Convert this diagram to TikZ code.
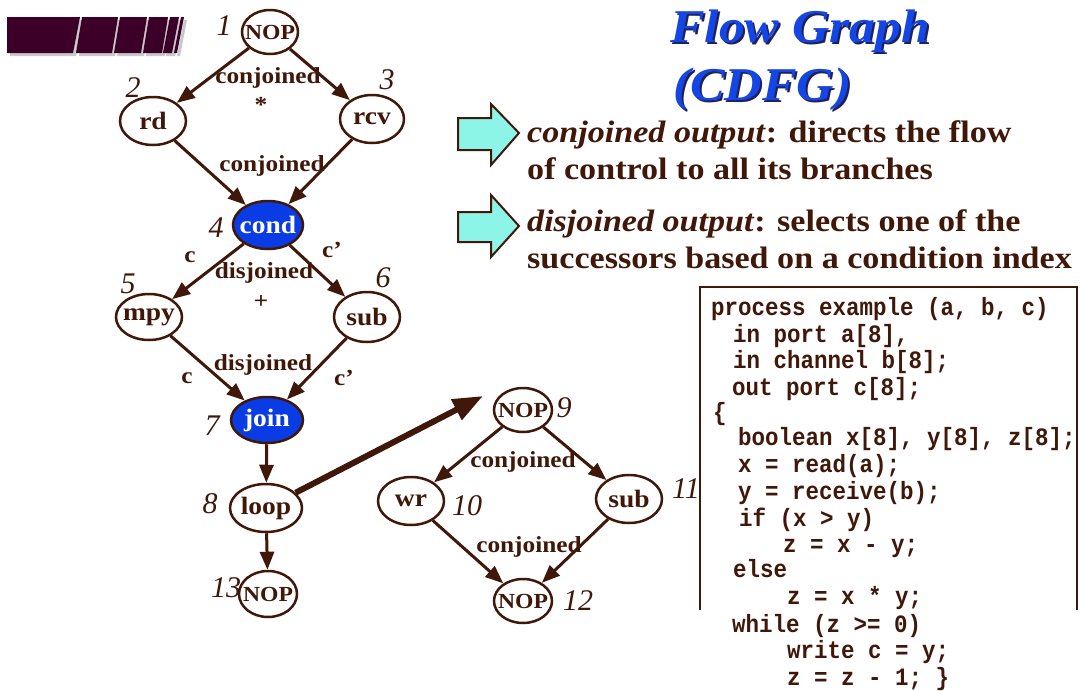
\documentclass[tikz,border=0pt]{standalone}
\usepackage{fontspec}
\setmainfont[FakeStretch=1.1]{Liberation Serif}
\setmonofont[FakeStretch=0.9]{Liberation Mono}
\newfontfamily\numfont{Liberation Serif}
\usetikzlibrary{arrows.meta,shapes.geometric}
\definecolor{brn}{HTML}{40180A}
\definecolor{nodeblue}{HTML}{0A3CE6}
\definecolor{titleblue}{HTML}{1446E6}
\definecolor{titleshadow}{HTML}{20205A}
\definecolor{cyanfill}{HTML}{8CF5E8}
\definecolor{plum}{HTML}{3C0028}
\definecolor{barshadow}{HTML}{C8C8C8}
\newcommand{\nt}[1]{\makebox[0pt]{#1}}
\tikzset{
  gnode/.style={ellipse, draw=brn, line width=2.5pt, fill=white, inner sep=0pt,
    text=brn, font=\fontsize{25}{27}\selectfont\bfseries},
  nopnode/.style={gnode, font=\fontsize{21.5}{23}\selectfont\bfseries},
  bnode/.style={gnode, fill=nodeblue, text=white},
  numlab/.style={anchor=base, inner sep=0pt, text=brn, font=\fontsize{30}{32}\selectfont\numfont\itshape},
  elab/.style={anchor=base, inner sep=0pt, text=brn, font=\fontsize{23}{26}\selectfont\bfseries},
  edge/.style={draw=brn, line width=3pt, -{Triangle[length=18pt,width=14pt]}},
  bigedge/.style={draw=brn, line width=6pt, -{Triangle[length=30pt,width=22pt]}},
  codeln/.style={anchor=base west, inner sep=0pt, text=brn, font=\fontsize{25}{26}\selectfont\ttfamily\bfseries},
  bigtext/.style={anchor=base west, inner sep=0pt, text=brn, font=\fontsize{31}{34}\selectfont\bfseries},
  titletext/.style={anchor=base west, inner sep=0pt, font=\fontsize{47}{50}\selectfont\bfseries\itshape},
  bluearrow/.style={draw=brn, line width=2pt, fill=cyanfill, line join=miter},
  barpart/.style={fill=plum},
  barshade/.style={fill=barshadow}
}
\begin{document}
\begin{tikzpicture}[x=1pt,y=-1pt]
\useasboundingbox (0,0) rectangle (1080,691);
\fill[white] (0,0) rectangle (1080,691);

% stripe bar (shadow then bar)
\begin{scope}[shift={(3,3)}]
\fill[barshade] (7,17) -- (80,17) -- (73,53) -- (7,53) -- cycle;
\fill[barshade] (82,17) -- (118,17) -- (112,53) -- (76,53) -- cycle;
\fill[barshade] (120,17) -- (147,17) -- (141,53) -- (114,53) -- cycle;
\fill[barshade] (149,17) -- (168,17) -- (162,53) -- (143,53) -- cycle;
\fill[barshade] (170,17) -- (179,17) -- (172,53) -- (163,53) -- cycle;
\fill[barshade] (181,17) -- (184,17) -- (177,53) -- (174,53) -- cycle;
\end{scope}
\fill[barpart] (7,17) -- (80,17) -- (73,53) -- (7,53) -- cycle;
\fill[barpart] (82,17) -- (118,17) -- (112,53) -- (76,53) -- cycle;
\fill[barpart] (120,17) -- (147,17) -- (141,53) -- (114,53) -- cycle;
\fill[barpart] (149,17) -- (168,17) -- (162,53) -- (143,53) -- cycle;
\fill[barpart] (170,17) -- (179,17) -- (172,53) -- (163,53) -- cycle;
\fill[barpart] (181,17) -- (184,17) -- (177,53) -- (174,53) -- cycle;

% title
\node[titletext, text=titleshadow] (t1s) at (672,44) {Flow Graph};
\node[titletext, text=titleblue] (t1) at (670,42) {Flow Graph};
\node[titletext, text=titleshadow] (t2s) at (675,102) {(CDFG)};
\node[titletext, text=titleblue] (t2) at (673,100) {(CDFG)};

% cyan arrows
\draw[bluearrow] (458,118) -- (491,118) -- (491,104) -- (519,133) -- (491,165) -- (491,150) -- (458,150) -- cycle;
\draw[bluearrow] (458,212) -- (491,212) -- (491,195) -- (519,226) -- (491,257) -- (491,242) -- (458,242) -- cycle;

\node[bigtext] (b1) at (527,142) {\textit{conjoined output}: directs the flow};
\node[bigtext] (b2) at (527,179) {of control to all its branches};
\node[bigtext] (b3) at (527,231) {\textit{disjoined output}: selects one of the};
\node[bigtext] (b4) at (527,268) {successors based on a condition index};

% code box
\draw[brn, line width=2.5pt] (700,610) -- (700,287) -- (1077,287) -- (1077,610);
\node[codeln] (c1) at (711,315) {process example (a, b, c)};
\node[codeln] (c2) at (733,342) {in port a[8],};
\node[codeln] (c3) at (733,368) {in channel b[8];};
\node[codeln] (c4) at (732,395) {out port c[8];};
\node[codeln] (c5) at (713,420) {\{};
\node[codeln] (c6) at (738,445) {boolean x[8], y[8], z[8];};
\node[codeln] (c7) at (738,472) {x = read(a);};
\node[codeln] (c8) at (738,499) {y = receive(b);};
\node[codeln] (c9) at (739,526) {if (x > y)};
\node[codeln] (c10) at (783,552) {z = x - y;};
\node[codeln] (c11) at (733,577) {else};
\node[codeln] (c12) at (787,604) {z = x * y;};
\node[codeln] (c13) at (732,632) {while (z >= 0)};
\node[codeln] (c14) at (787,658) {write c = y;};
\node[codeln] (c15) at (787,685) {z = z - 1; \}};

% graph nodes
\node[nopnode, minimum width=56pt, minimum height=44pt] (n1) at (270,32) {\nt{NOP}};
\node[gnode, minimum width=66pt, minimum height=48pt] (n2) at (153,121) {\nt{rd}};
\node[gnode, minimum width=64pt, minimum height=48pt] (n3) at (372,119) {\nt{rcv}};
\node[bnode, minimum width=70pt, minimum height=48pt] (n4) at (268,225) {\nt{cond}};
\node[gnode, minimum width=66pt, minimum height=46pt] (n5) at (149,317) {\nt{mpy}};
\node[gnode, minimum width=66pt, minimum height=50pt] (n6) at (367,317) {\nt{sub}};
\node[bnode, minimum width=72pt, minimum height=46pt] (n7) at (267,420) {\nt{join}};
\node[gnode, minimum width=72pt, minimum height=48pt] (n8) at (266,508) {\nt{loop}};
\node[nopnode, minimum width=58pt, minimum height=44pt] (n9) at (523,410) {\nt{NOP}};
\node[gnode, minimum width=66pt, minimum height=48pt] (n10) at (411,501) {\nt{wr}};
\node[gnode, minimum width=66pt, minimum height=48pt] (n11) at (629,499) {\nt{sub}};
\node[nopnode, minimum width=58pt, minimum height=44pt] (n12) at (523,601) {\nt{NOP}};
\node[nopnode, minimum width=58pt, minimum height=46pt] (n13) at (268,594) {\nt{NOP}};

% number labels
\node[numlab] (l1) at (224,35) {1};
\node[numlab] (l2) at (133,97) {2};
\node[numlab] (l3) at (387,89) {3};
\node[numlab] (l4) at (216,237) {4};
\node[numlab] (l5) at (128,293) {5};
\node[numlab] (l6) at (383,287) {6};
\node[numlab] (l7) at (212,435) {7};
\node[numlab] (l8) at (210,513) {8};
\node[numlab] (l9) at (564,417) {9};
\node[numlab] (l10) at (467,515) {10};
\node[numlab] (l11) at (686,498) {11};
\node[numlab] (l12) at (578,610) {12};
\node[numlab] (l13) at (226,597) {13};

% edges
\draw[edge] (n1) -- (n2);
\draw[edge] (n1) -- (n3);
\draw[edge] (n2) -- (n4);
\draw[edge] (n3) -- (n4);
\draw[edge] (n4) -- (n5);
\draw[edge] (n4) -- (n6);
\draw[edge] (n5) -- (n7);
\draw[edge] (n6) -- (n7);
\draw[edge] (n7) -- (n8);
\draw[edge] (n8) -- (n13);
\draw[edge] (n9) -- (n10);
\draw[edge] (n9) -- (n11);
\draw[edge] (n10) -- (n12);
\draw[edge] (n11) -- (n12);
\coordinate (loopend) at (483,396);
\draw[bigedge] (n8) -- (loopend);

% edge labels
\node[elab] (e1) at (268,83) {conjoined};
\node[elab] (e2) at (261,112) {*};
\node[elab] (e3) at (272,171) {conjoined};
\node[elab] (e4) at (190,262) {c};
\node[elab] (e5) at (332,257) {c’};
\node[elab] (e6) at (264,278) {disjoined};
\node[elab] (e7) at (261,308) {+};
\node[elab] (e8) at (263,370) {disjoined};
\node[elab] (e9) at (187,383) {c};
\node[elab] (e10) at (344,385) {c’};
\node[elab] (e11) at (523,467) {conjoined};
\node[elab] (e12) at (529,552) {conjoined};
\end{tikzpicture}
\end{document}
